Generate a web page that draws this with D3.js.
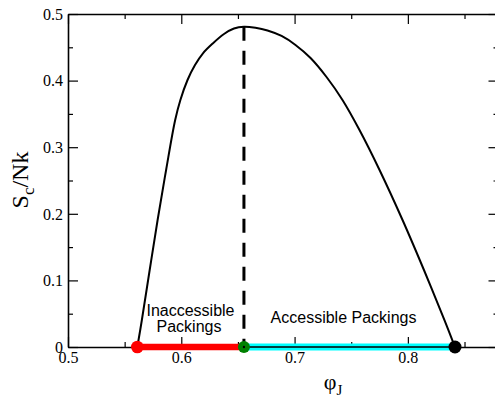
<!DOCTYPE html>
<html>
<head>
<meta charset="utf-8">
<script src="https://cdn.jsdelivr.net/npm/d3@7"></script>
<style>
  html, body { margin: 0; padding: 0; background: #fff; }
  svg { display: block; }
</style>
</head>
<body>
<svg id="chart" width="495" height="397"></svg>
<script>
// Configurational entropy S_c/Nk as a function of the jamming density phi_J
const phiCurve = [0.5612, 0.5652, 0.5721, 0.5791, 0.5866, 0.5946, 0.5992, 0.6055, 0.6121, 0.6193,
                  0.6277, 0.6377, 0.6465, 0.6553, 0.6655, 0.6761, 0.6885, 0.7008, 0.7141, 0.7282,
                  0.7423, 0.7573, 0.7750, 0.7953, 0.8142, 0.8323, 0.8416];
const sCurve   = [0.0000, 0.0405, 0.1156, 0.1907, 0.2658, 0.3408, 0.3709, 0.4009, 0.4234, 0.4414,
                  0.4557, 0.4700, 0.4782, 0.4809, 0.4793, 0.4752, 0.4670, 0.4535, 0.4339, 0.4054,
                  0.3709, 0.3258, 0.2658, 0.1907, 0.1156, 0.0405, 0.0000];

// Special densities: lowest jammed packing, entropy maximum, densest packing
const phiLow  = 0.5612;
const phiPeak = 0.6553;
const sPeak   = 0.4809;
const phiHigh = 0.8416;

const xTicks = [0.5, 0.6, 0.7, 0.8];
const xMinorTicks = [0.55, 0.65, 0.75, 0.85];
const yTicks = [0, 0.1, 0.2, 0.3, 0.4, 0.5];
const yMinorTicks = [0.05, 0.15, 0.25, 0.35, 0.45];

const svg = d3.select("#chart");
const plotLeft = 68, plotTop = 14, plotRight = 498.5, plotBottom = 347;

const x = d3.scaleLinear().domain([0.5, 0.88]).range([plotLeft, plotRight]);
const y = d3.scaleLinear().domain([0, 0.5]).range([plotBottom, plotTop]);

const serif = "'Liberation Serif', 'Times New Roman', serif";
const sans = "'Liberation Sans', Arial, Helvetica, sans-serif";

// Frame and inward ticks on all four sides
function styleAxis(g) {
  g.select(".domain").attr("stroke", "#000").attr("stroke-width", 1.6);
  g.selectAll(".tick line").attr("stroke", "#000").attr("stroke-width", 1.2);
}

const fmt = d => d === 0 ? "0" : d3.format(".1f")(d);

// bottom
svg.append("g").attr("transform", `translate(0,${plotBottom})`)
  .call(d3.axisBottom(x).tickValues(xTicks).tickSize(-10).tickSizeOuter(0).tickFormat(fmt).tickPadding(6))
  .call(styleAxis)
  .call(g => g.selectAll(".tick text").attr("font-family", serif).attr("font-size", 16).attr("fill", "#000")
    .attr("y", 16).attr("dy", 0));
svg.append("g").attr("transform", `translate(0,${plotBottom})`)
  .call(d3.axisBottom(x).tickValues(xMinorTicks).tickSize(-5).tickSizeOuter(0).tickFormat(""))
  .call(styleAxis).call(g => g.select(".domain").remove());

// top
svg.append("g").attr("transform", `translate(0,${plotTop})`)
  .call(d3.axisTop(x).tickValues(xTicks).tickSize(-10).tickSizeOuter(0).tickFormat(""))
  .call(styleAxis);
svg.append("g").attr("transform", `translate(0,${plotTop})`)
  .call(d3.axisTop(x).tickValues(xMinorTicks).tickSize(-5).tickSizeOuter(0).tickFormat(""))
  .call(styleAxis).call(g => g.select(".domain").remove());

// left
svg.append("g").attr("transform", `translate(${plotLeft},0)`)
  .call(d3.axisLeft(y).tickValues(yTicks).tickSize(-10).tickSizeOuter(0).tickFormat(fmt).tickPadding(5))
  .call(styleAxis)
  .call(g => g.selectAll(".tick text").attr("font-family", serif).attr("font-size", 16).attr("fill", "#000")
    .attr("x", -5).attr("dy", "0.33em"));
svg.append("g").attr("transform", `translate(${plotLeft},0)`)
  .call(d3.axisLeft(y).tickValues(yMinorTicks).tickSize(-5).tickSizeOuter(0).tickFormat(""))
  .call(styleAxis).call(g => g.select(".domain").remove());

// right
svg.append("g").attr("transform", `translate(${plotRight},0)`)
  .call(d3.axisRight(y).tickValues(yTicks).tickSize(-10).tickSizeOuter(0).tickFormat(""))
  .call(styleAxis);
svg.append("g").attr("transform", `translate(${plotRight},0)`)
  .call(d3.axisRight(y).tickValues(yMinorTicks).tickSize(-5).tickSizeOuter(0).tickFormat(""))
  .call(styleAxis).call(g => g.select(".domain").remove());

// Accessible range: cyan band with a black line along it
svg.append("line")
  .attr("x1", x(phiPeak)).attr("x2", x(phiHigh)).attr("y1", y(0)).attr("y2", y(0))
  .attr("stroke", "#00ffff").attr("stroke-width", 7);
svg.append("line")
  .attr("x1", x(phiPeak)).attr("x2", x(phiHigh)).attr("y1", y(0)).attr("y2", y(0))
  .attr("stroke", "#000").attr("stroke-width", 1.6);

// Inaccessible range: red band
svg.append("line")
  .attr("x1", x(phiLow)).attr("x2", x(phiPeak)).attr("y1", y(0)).attr("y2", y(0))
  .attr("stroke", "#ff0000").attr("stroke-width", 6.5);

// Entropy curve
const pts = phiCurve.map((p, i) => [p, sCurve[i]]);
svg.append("path")
  .datum(pts)
  .attr("fill", "none").attr("stroke", "#000").attr("stroke-width", 2)
  .attr("d", d3.line().x(d => x(d[0])).y(d => y(d[1])).curve(d3.curveCatmullRom.alpha(0.5)));

// Dashed line at the entropy maximum
svg.append("line")
  .attr("x1", x(phiPeak)).attr("x2", x(phiPeak)).attr("y1", y(sPeak)).attr("y2", y(0))
  .attr("stroke", "#000").attr("stroke-width", 3).attr("stroke-dasharray", "14,10");

// End-point markers
svg.append("circle").attr("cx", x(phiLow)).attr("cy", y(0)).attr("r", 6.3).attr("fill", "#ff0000");
svg.append("circle").attr("cx", x(phiPeak)).attr("cy", y(0)).attr("r", 6).attr("fill", "#008000");
svg.append("circle").attr("cx", x(phiPeak)).attr("cy", y(0)).attr("r", 1.2).attr("fill", "#000");
svg.append("circle").attr("cx", x(phiHigh)).attr("cy", y(0)).attr("r", 6.5).attr("fill", "#000");

// Region labels
const labels = svg.append("g").attr("font-family", sans).attr("font-size", 16).attr("fill", "#000")
  .attr("text-anchor", "middle");
labels.append("text").attr("x", 190.5).attr("y", 316).text("Inaccessible");
labels.append("text").attr("x", 189).attr("y", 332).text("Packings");
labels.append("text").attr("x", 343.5).attr("y", 323).text("Accessible Packings");

// Axis titles
const xt = svg.append("text").attr("font-family", serif).attr("font-size", 22).attr("fill", "#000")
  .attr("x", 333).attr("y", 389).attr("text-anchor", "middle");
xt.append("tspan").text("\u03c6");
xt.append("tspan").attr("font-size", 15).attr("dy", 6).text("J");

const yt = svg.append("text").attr("font-family", serif).attr("font-size", 24).attr("fill", "#000")
  .attr("transform", "translate(28,180) rotate(-90)").attr("text-anchor", "middle");
yt.append("tspan").text("S");
yt.append("tspan").attr("font-size", 17).attr("dy", 6).text("c");
yt.append("tspan").attr("dy", -6).text("/Nk");
</script>
</body>
</html>
